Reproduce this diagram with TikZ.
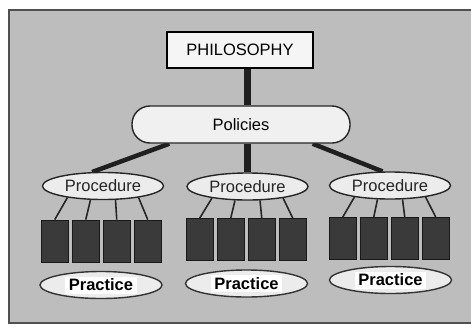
\documentclass[tikz,border=0pt]{standalone}
\usepackage{fontspec}
\setmainfont{Liberation Sans}
\usetikzlibrary{shapes.geometric}
\definecolor{panelgray}{RGB}{189,189,189}
\definecolor{framegray}{RGB}{80,80,80}
\definecolor{blockgray}{RGB}{58,58,58}
\definecolor{ovalfill}{RGB}{236,236,236}
\pgfdeclarelayer{bg}\pgfdeclarelayer{links}
\pgfsetlayers{bg,links,main}

\begin{document}
\begin{tikzpicture}[x=1pt,y=-1pt,font=\fontsize{16.5}{19}\selectfont,
  top/.style={draw=black,line width=1.6pt,fill=white!96!black,minimum width=146pt,minimum height=36pt,inner sep=0pt},
  policy/.style={draw=black!85,line width=1.4pt,fill=white!94!black,rounded corners=18pt,minimum width=218pt,minimum height=37pt,inner sep=0pt},
  proc/.style={ellipse,draw=black!85,line width=1.4pt,fill=ovalfill,text=black!85,minimum width=121pt,minimum height=27pt,inner sep=0pt},
  prac/.style={ellipse,draw=black!80,line width=1.4pt,fill=ovalfill,minimum width=122pt,minimum height=27pt,inner sep=0pt},
  tag/.style={fill=white,font=\fontsize{16.5}{19}\selectfont\bfseries,inner xsep=3.5pt,inner ysep=2pt,text height=12pt,text depth=1pt},
  blk/.style={draw=black!90,line width=0.8pt,fill=blockgray,minimum width=27.5pt,minimum height=42pt,inner sep=0pt},
  trunk/.style={line width=6.5pt,draw=black!88},
  branch/.style={line width=4.5pt,draw=black!88},
  twig/.style={line width=1.6pt,draw=black!85}]
\useasboundingbox (0,0) rectangle (471,327);
\begin{pgfonlayer}{bg}
\draw[fill=panelgray,draw=framegray,line width=1.2pt] (9,10) rectangle (480,323);
\end{pgfonlayer}
% hierarchy levels
\node[top](philo) at (240,50){PHILOSOPHY};
\node[policy](pol) at (241,124.5){Policies};
\node[proc](proc1) at (103,186){Procedure};
\node[proc](proc2) at (247.5,186.5){Procedure};
\node[proc](proc3) at (390,185.5){Procedure};
\foreach \g/\x/\y in {1/54.75/241,2/199.75/239.5,3/342.75/238.5}
  \foreach \i in {0,...,3} \node[blk](blk\g\i) at ({\x+31*\i},\y){};
\node[prac](prac1) at (101,285){}; \node[tag](txt1) at (prac1){Practice};
\node[prac](prac2) at (246.5,283.5){}; \node[tag](txt2) at (prac2){Practice};
\node[prac](prac3) at (390.5,280){}; \node[tag](txt3) at (prac3){Practice};
% connectors run underneath the shapes
\begin{pgfonlayer}{links}
\draw[trunk](philo.south -| proc2)--(pol.north -| proc2);
\draw[trunk](pol.south -| proc2)--(proc2.north);
\draw[branch](pol.195)--(proc1.128);\draw[branch](pol.345)--(proc3.118);
\foreach \g in {1,2,3}
  \foreach \i/\a in {0/198,1/228,2/312,3/342} \draw[twig](proc\g.\a)--(blk\g\i.north);
\end{pgfonlayer}
\end{tikzpicture}
\end{document}
